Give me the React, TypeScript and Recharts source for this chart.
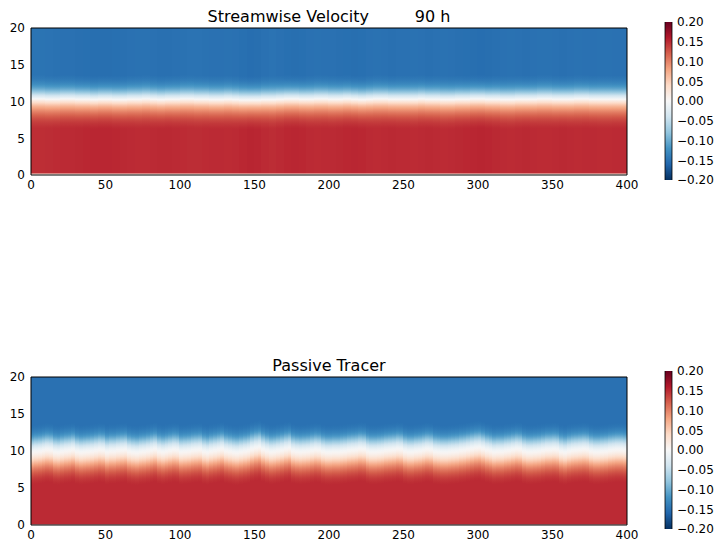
import { ScatterChart, Scatter, XAxis, YAxis, BarChart, Bar } from "recharts";

// axis ticks
const xTicks = [0, 50, 100, 150, 200, 250, 300, 350, 400];
const yTicks = [0, 5, 10, 15, 20];
const cbTicks = [-0.2, -0.15, -0.1, -0.05, 0, 0.05, 0.1, 0.15, 0.2];

// RdBu_r colormap stops (low -> high)
const rdbuR = [
  "#053061", "#2166ac", "#4393c3", "#92c5de", "#d1e5f0", "#f7f7f7",
  "#fddbc7", "#f4a582", "#d6604d", "#b2182b", "#67001f",
];

// height of the zero line, one value per 5-unit column (velocity)
const velInterface = [
  10.35, 10.35, 10.3, 10.3, 10.35, 10.35, 10.3, 10.3, 10.25, 10.3,
  10.3, 10.25, 10.25, 10.3, 10.3, 10.35, 10.3, 10.25, 10.3, 10.3,
  10.35, 10.35, 10.3, 10.3, 10.25, 10.25, 10.3, 10.25, 10.2, 10.2,
  10.2, 10.25, 10.25, 10.3, 10.35, 10.35, 10.3, 10.3, 10.35, 10.35,
  10.3, 10.3, 10.35, 10.3, 10.25, 10.3, 10.35, 10.35, 10.3, 10.3,
  10.3, 10.3, 10.35, 10.3, 10.3, 10.25, 10.25, 10.3, 10.3, 10.35,
  10.35, 10.3, 10.3, 10.25, 10.25, 10.3, 10.3, 10.3, 10.35, 10.35,
  10.3, 10.3, 10.3, 10.35, 10.35, 10.3, 10.3, 10.3, 10.3, 10.3,
];

// column strength of the velocity (faint vertical streaks)
const velStrength = [
  0.985, 0.985, 0.99, 0.995, 1.0, 1.0, 1.005, 1.01, 1.015, 1.015,
  1.015, 1.01, 1.005, 1.0, 0.995, 0.995, 1.0, 1.005, 1.005, 1.0,
  0.995, 0.99, 0.99, 0.995, 1.0, 1.0, 0.995, 1.0, 1.01, 1.02,
  1.015, 1.0, 0.99, 1.0, 1.01, 1.015, 1.01, 1.0, 0.995, 1.0,
  1.0, 1.005, 1.01, 1.015, 1.01, 1.0, 0.995, 1.0, 1.005, 1.0,
  1.0, 0.995, 1.0, 1.005, 1.0, 0.995, 1.0, 1.005, 1.01, 1.015,
  1.02, 1.015, 1.005, 1.0, 0.995, 1.0, 1.005, 1.0, 0.995, 0.995,
  1.0, 1.005, 1.0, 0.995, 1.0, 1.0, 0.995, 0.995, 1.0, 1.0,
];

// velocity vs distance from the zero line, -4 .. +3.25 in 0.25 steps
const velProfile = [
  0.15, 0.148, 0.145, 0.142, 0.138, 0.133, 0.127, 0.12, 0.112, 0.103,
  0.093, 0.082, 0.07, 0.055, 0.038, 0.02, 0.0, -0.02, -0.04, -0.06,
  -0.08, -0.095, -0.108, -0.118, -0.127, -0.134, -0.14, -0.144, -0.147, -0.15,
];
const velWall = 0.03;

// height of the zero line, one value per 2.5-unit column (tracer)
const tracerInterface = [
  9.95, 10.05, 10.1, 10.2, 10.3, 10.25, 10.0, 9.95, 10.05, 10.15,
  10.2, 10.3, 10.05, 9.95, 10.0, 10.05, 10.1, 10.2, 10.3, 10.25,
  10.0, 10.1, 10.1, 10.2, 10.25, 10.3, 10.05, 9.95, 9.9, 10.0,
  10.05, 10.15, 10.25, 10.35, 10.1, 10.0, 10.1, 10.2, 10.3, 10.25,
  10.0, 10.05, 10.1, 10.2, 10.25, 10.3, 10.05, 9.95, 10.1, 10.2,
  10.3, 10.4, 10.15, 10.05, 9.95, 9.9, 10.0, 10.1, 10.2, 10.4,
  10.55, 10.65, 10.35, 10.15, 10.0, 10.05, 10.15, 10.25, 10.4, 10.5,
  10.15, 10.05, 10.0, 10.05, 10.1, 10.2, 10.3, 10.25, 10.05, 9.95,
  9.95, 10.0, 10.0, 10.05, 10.1, 10.2, 10.25, 10.3, 10.4, 10.35,
  10.1, 10.0, 10.0, 10.05, 10.1, 10.2, 10.25, 10.3, 10.4, 10.35,
  10.1, 10.0, 10.0, 10.1, 10.15, 10.25, 10.35, 10.3, 10.05, 10.0,
  9.95, 9.95, 10.0, 10.05, 10.1, 10.2, 10.25, 10.35, 10.45, 10.55,
  10.6, 10.45, 10.25, 10.15, 10.0, 10.05, 10.05, 10.15, 10.2, 10.3,
  10.4, 10.35, 10.1, 10.0, 10.0, 10.05, 10.1, 10.2, 10.3, 10.3,
  10.35, 10.3, 10.05, 9.95, 10.1, 10.2, 10.25, 10.3, 10.35, 10.3,
  10.1, 10.0, 10.0, 10.05, 10.1, 10.2, 10.25, 10.3, 10.3, 10.25,
];

// tracer vs distance from the zero line, -4.5 .. +3.5 in 0.25 steps
const tracerProfile = [
  0.15, 0.148, 0.145, 0.141, 0.136, 0.13, 0.123, 0.115, 0.106, 0.096,
  0.085, 0.073, 0.06, 0.047, 0.034, 0.022, 0.012, 0.004, -0.004, -0.014,
  -0.027, -0.042, -0.058, -0.074, -0.09, -0.104, -0.116, -0.126, -0.134, -0.14,
  -0.145, -0.148, -0.15,
];

const hexToRgb = (h: string) => [
  parseInt(h.slice(1, 3), 16),
  parseInt(h.slice(3, 5), 16),
  parseInt(h.slice(5, 7), 16),
];

const cmap = (v: number) => {
  let t = (v + 0.2) / 0.4;
  t = Math.max(0, Math.min(1, t)) * (rdbuR.length - 1);
  const i = Math.min(rdbuR.length - 2, Math.floor(t));
  const f = t - i;
  const a = hexToRgb(rdbuR[i]);
  const b = hexToRgb(rdbuR[i + 1]);
  const c = a.map((ch, k) => Math.round(ch + (b[k] - ch) * f));
  return `rgb(${c[0]},${c[1]},${c[2]})`;
};

// one point per column, placed at mid height; the shape paints the whole column
const velCols = velInterface.map((h, i) => ({
  x: 2.5 + 5 * i, y: 10, i, iface: h, s: velStrength[i],
}));
const tracerCols = tracerInterface.map((h, i) => ({
  x: 1.25 + 2.5 * i, y: 10, i, iface: h, s: 1,
}));

const FONT = "DejaVu Sans";
const PLOT_W = 596;
const tickStyle = { fill: "#000", fontSize: 12, fontFamily: FONT };
const anchor = [{ x: 0, y: 0 }];
const Nothing = () => <g />;

function columnShape(
  id: string,
  nCols: number,
  plotH: number,
  profile: number[],
  dStart: number,
  wall?: number
) {
  const step = PLOT_W / nCols;
  return (p: any) => {
    const { cx, cy, payload } = p;
    const gid = `${id}-${payload.i}`;
    const stops: any[] = [];
    if (wall !== undefined) {
      const w = 1.2 / plotH;
      stops.push(<stop key="w0" offset={0} stopColor={cmap(wall)} />);
      stops.push(<stop key="w1" offset={w} stopColor={cmap(wall)} />);
      stops.push(<stop key="w2" offset={w + 0.004} stopColor={cmap(profile[0] * payload.s)} />);
    } else {
      stops.push(<stop key="b0" offset={0} stopColor={cmap(profile[0] * payload.s)} />);
    }
    profile.forEach((v, j) => {
      const off = (payload.iface + dStart + 0.25 * j) / 20;
      stops.push(<stop key={j} offset={Math.max(0, Math.min(1, off))} stopColor={cmap(v * payload.s)} />);
    });
    stops.push(<stop key="t1" offset={1} stopColor={cmap(profile[profile.length - 1] * payload.s)} />);
    // snap to whole pixels and overlap the next column so no seams show
    const last = payload.i === nCols - 1;
    const x0 = Math.floor(cx - step / 2);
    const x1 = last ? Math.round(cx + step / 2) : Math.ceil(cx + step / 2) + 1;
    return (
      <g>
        <defs>
          <linearGradient id={gid} x1="0" y1="1" x2="0" y2="0">
            {stops}
          </linearGradient>
        </defs>
        <rect x={x0} y={cy - plotH / 2} width={x1 - x0} height={plotH}
          fill={`url(#${gid})`} shapeRendering="crispEdges" />
      </g>
    );
  };
}

// axes of a panel; "lines" draws spines + inward ticks, otherwise only labels
function PanelAxes(lines: boolean) {
  const line = lines ? { stroke: "#000" } : false;
  return [
    <XAxis key="b" xAxisId="b" type="number" dataKey="x" domain={[0, 400]} ticks={xTicks}
      allowDataOverflow interval={0} height={25} tickSize={-4} tickMargin={9}
      axisLine={lines ? { stroke: "#555", strokeWidth: 1.5 } : false} tickLine={line}
      tick={lines ? false : tickStyle} />,
    <XAxis key="t" xAxisId="t" orientation="top" type="number" dataKey="x" domain={[0, 400]} ticks={xTicks}
      allowDataOverflow interval={0} height={28} tickSize={-4} tick={false}
      axisLine={line} tickLine={line} />,
    <YAxis key="l" yAxisId="l" type="number" dataKey="y" domain={[0, 20]} ticks={yTicks}
      allowDataOverflow interval={0} width={31} tickSize={-4} tickMargin={10}
      axisLine={line} tickLine={line} tick={lines ? false : tickStyle} />,
    <YAxis key="r" yAxisId="r" orientation="right" type="number" dataKey="y" domain={[0, 20]} ticks={yTicks}
      allowDataOverflow interval={0} width={33} tickSize={-4} tick={false}
      axisLine={line} tickLine={line} />,
  ];
}

function Heatmap({ cols, shape, top, plotH }: { cols: any[]; shape: any; top: number; plotH: number }) {
  const h = 28 + plotH + 25;
  const margin = { top: 0, right: 0, bottom: 0, left: 0 };
  return (
    <div style={{ position: "absolute", left: 0, top, width: 660, height: h }}>
      <div style={{ position: "absolute", left: 0, top: 0 }}>
        <ScatterChart width={660} height={h} margin={margin}>
          {PanelAxes(false)}
          <Scatter data={cols} xAxisId="b" yAxisId="l" shape={shape} isAnimationActive={false} />
        </ScatterChart>
      </div>
      {/* spines and inward ticks drawn over the image */}
      <div style={{ position: "absolute", left: 0, top: 0, pointerEvents: "none" }}>
        <ScatterChart width={660} height={h} margin={margin}>
          {PanelAxes(true)}
          <Scatter data={anchor} xAxisId="b" yAxisId="l" shape={Nothing} isAnimationActive={false} />
        </ScatterChart>
      </div>
    </div>
  );
}

const ColorbarShape = (p: any) => {
  const { x, y, width, height } = p;
  const tip = 8;
  const stops = rdbuR.map((c, i) => (
    <stop key={i} offset={`${(i / (rdbuR.length - 1)) * 100}%`} stopColor={c} />
  ));
  const outline = `M${x},${y} L${x + width / 2},${y - tip} L${x + width},${y} L${x + width},${y + height} L${x + width / 2},${y + height + tip} L${x},${y + height} Z`;
  return (
    <g>
      <defs>
        <linearGradient id="cbGrad" x1="0" y1="1" x2="0" y2="0">
          {stops}
        </linearGradient>
      </defs>
      <path d={`M${x},${y} L${x + width / 2},${y - tip} L${x + width},${y} Z`} fill={rdbuR[10]} />
      <rect x={x} y={y} width={width} height={height} fill="url(#cbGrad)" />
      <path d={`M${x},${y + height} L${x + width / 2},${y + height + tip} L${x + width},${y + height} Z`} fill={rdbuR[0]} />
      <path d={outline} fill="none" stroke="#000" strokeWidth={0.8} />
    </g>
  );
};

const cbData = [{ name: "cb", range: [-0.2, 0.2] }];
const cbFormat = (v: number) => (v < 0 ? "\u2212" : "") + Math.abs(v).toFixed(2);

function Colorbar({ top }: { top: number }) {
  const margin = { top: 22, right: 0, bottom: 20, left: 25 };
  return (
    <div style={{ position: "absolute", left: 640, top, width: 78, height: 200 }}>
      <div style={{ position: "absolute", left: 0, top: 0 }}>
        <BarChart width={78} height={200} data={cbData} barCategoryGap={0} margin={margin}>
          <XAxis dataKey="name" hide />
          <YAxis orientation="right" type="number" domain={[-0.2, 0.2]} ticks={cbTicks}
            allowDataOverflow interval={0} width={46} tickSize={-3} tickMargin={8}
            axisLine={false} tickLine={false} tick={tickStyle} tickFormatter={cbFormat} />
          <Bar dataKey="range" shape={ColorbarShape} isAnimationActive={false} />
        </BarChart>
      </div>
      <div style={{ position: "absolute", left: 0, top: 0, pointerEvents: "none" }}>
        <BarChart width={78} height={200} data={cbData} barCategoryGap={0} margin={margin}>
          <XAxis dataKey="name" hide />
          <YAxis orientation="right" type="number" domain={[-0.2, 0.2]} ticks={cbTicks}
            allowDataOverflow interval={0} width={46} tickSize={-3}
            axisLine={false} tickLine={{ stroke: "#000" }} tick={false} />
          <Bar dataKey="range" shape={Nothing} isAnimationActive={false} />
        </BarChart>
      </div>
    </div>
  );
}

const titleStyle: any = {
  position: "absolute",
  left: 0,
  width: 658,
  textAlign: "center",
  fontFamily: FONT,
  fontSize: 16,
  lineHeight: "16px",
  whiteSpace: "pre",
  color: "#000",
};

const velShape = columnShape("vel", velCols.length, 147, velProfile, -4, velWall);
const tracerShape = columnShape("trc", tracerCols.length, 148, tracerProfile, -4.5);

export default function App() {
  return (
    <div style={{ position: "absolute", left: 0, top: 0, width: 718, height: 546, background: "#fff", overflow: "hidden" }}>
      <div style={{ ...titleStyle, top: 9 }}>{"Streamwise Velocity         90 h"}</div>
      <Heatmap cols={velCols} shape={velShape} top={0} plotH={147} />
      <Colorbar top={0} />
      <div style={{ ...titleStyle, top: 358 }}>Passive Tracer</div>
      <Heatmap cols={tracerCols} shape={tracerShape} top={349} plotH={148} />
      <Colorbar top={349} />
    </div>
  );
}
